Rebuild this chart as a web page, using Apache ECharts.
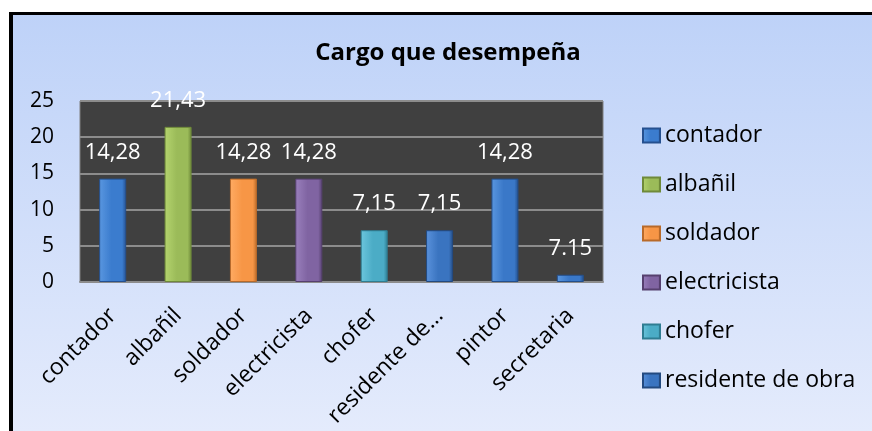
<!DOCTYPE html>
<html>
<head>
<meta charset="utf-8">
<script src="https://cdn.jsdelivr.net/npm/echarts@6/dist/echarts.min.js"></script>
<style>
  html, body { margin: 0; padding: 0; background: #fff; }
  #frame {
    position: absolute; left: 9px; top: 12px; right: 0; bottom: 0;
    border-left: 4px solid #000; border-top: 3px solid #000;
    background: linear-gradient(to bottom, #bed2f8 0%, #e4ebfc 100%);
  }
  #myChart { width: 100%; height: 100%; }
</style>
</head>
<body>
<div id="frame"><div id="myChart"></div></div>
<script>
// datos del grafico
var categories = ["contador", "albañil", "soldador", "electricista", "chofer", "residente de obra", "pintor", "secretaria"];
var values = [14.28, 21.43, 14.28, 14.28, 7.15, 7.15, 14.28, 1];
var valueLabels = ["14,28", "21,43", "14,28", "14,28", "7,15", "7,15", "14,28", "7.15"];
var legendNames = ["contador", "albañil", "soldador", "electricista", "chofer", "residente de obra"];

// colores (claro, medio, oscuro)
var colors = [
  ["#5a97e0", "#3b7cce", "#25508f"],
  ["#b4d46e", "#9bbb59", "#6f8a3a"],
  ["#ffab63", "#f79646", "#b86a2a"],
  ["#9a80bd", "#8064a2", "#56406f"],
  ["#6cc6dd", "#4bacc6", "#2f7d92"],
  ["#5a92dc", "#3a74c0", "#234a80"],
  ["#5a97e0", "#3a78c8", "#234f8c"],
  ["#5a97e0", "#3a78c8", "#234f8c"]
];

function grad(c) {
  return new echarts.graphic.LinearGradient(0, 0, 1, 0, [
    { offset: 0, color: c[0] },
    { offset: 0.45, color: c[1] },
    { offset: 0.85, color: c[1] },
    { offset: 1, color: c[2] }
  ]);
}

var myChart = echarts.init(document.getElementById("myChart"));
var font = "'Open Sans', 'Noto Sans', sans-serif";

var series = categories.map(function (name, i) {
  return {
    name: name,
    type: "bar",
    stack: "total",
    barWidth: 27,
    itemStyle: {
      color: grad(colors[i]),
      borderColor: colors[i][2],
      borderWidth: 1
    },
    label: {
      show: true,
      position: "top",
      distance: 15,
      color: "#fff",
      fontFamily: font,
      fontSize: 22,
      formatter: function () { return valueLabels[i]; }
    },
    data: values.map(function (v, j) { return j === i ? v : "-"; })
  };
});

myChart.setOption({
  textStyle: { fontFamily: font },
  title: {
    text: "Cargo que desempeña",
    left: 430,
    top: 21,
    textAlign: "center",
    textStyle: { fontFamily: font, fontSize: 24, fontWeight: "bold", color: "#000" }
  },
  legend: {
    orient: "vertical",
    left: 629,
    top: 109,
    padding: 0,
    itemWidth: 17,
    itemHeight: 14,
    itemGap: 26,
    icon: "rect",
    data: legendNames,
    textStyle: { fontFamily: font, fontSize: 23, color: "#000" }
  },
  grid: {
    left: 67,
    top: 86,
    width: 523,
    height: 181,
    show: true,
    backgroundColor: "#404040",
    borderColor: "#7f7f7f",
    borderWidth: 1
  },
  xAxis: {
    type: "category",
    data: categories,
    axisTick: { show: false },
    axisLine: { lineStyle: { color: "#8c8c8c", width: 2 } },
    axisLabel: {
      interval: 0,
      rotate: 45,
      margin: 30,
      color: "#000",
      fontFamily: font,
      fontSize: 23,
      formatter: function (v) { return v.length > 14 ? v.slice(0, 12) + "…" : v; }
    }
  },
  yAxis: {
    type: "value",
    min: 0,
    max: 25,
    interval: 5,
    axisLine: { show: false },
    axisTick: { show: false },
    splitLine: { lineStyle: { color: "#8c8c8c", width: 2 } },
    axisLabel: { margin: 26, color: "#000", fontFamily: font, fontSize: 21 }
  },
  series: series
});
</script>
</body>
</html>
